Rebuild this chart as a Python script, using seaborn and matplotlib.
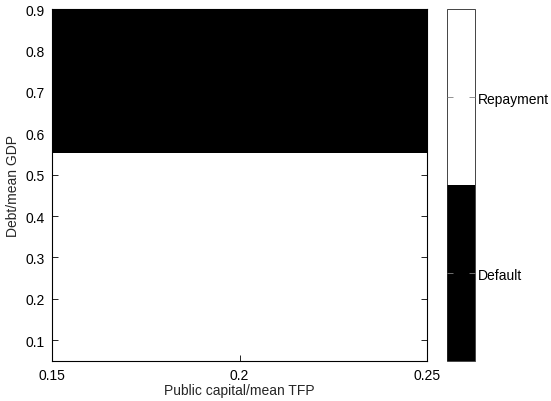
import numpy as np
import matplotlib
matplotlib.use("Agg")
import matplotlib.pyplot as plt
from matplotlib.colors import ListedColormap
import seaborn as sns

# grid edges
capital_edges = [0.15, 0.25]
debt_edges = [0.05, 0.553, 0.9]
# 1 = repayment, 0 = default (rows follow debt bins)
regime = [[1], [0]]
regime_labels = ["Default", "Repayment"]

sns.set_style("ticks")
plt.rcParams["font.family"] = ["Liberation Sans", "DejaVu Sans"]
plt.rcParams["font.size"] = 10

fig = plt.figure(figsize=(5.51, 4.02), dpi=100)
ax = fig.add_axes([0.0944, 0.0995, 0.681, 0.8756])
cax = fig.add_axes([0.811, 0.0995, 0.051, 0.8756])

cmap = ListedColormap(["black", "white"])
mesh = ax.pcolormesh(capital_edges, debt_edges, np.array(regime),
                     cmap=cmap, vmin=-0.5, vmax=1.5)
ax.set_axisbelow(False)

ax.set_xlim(0.15, 0.25)
ax.set_ylim(0.05, 0.9)
ax.set_xticks([0.15, 0.2, 0.25])
ax.set_xticklabels(["0.15", "0.2", "0.25"])
ax.set_yticks(np.arange(1, 10) / 10)
ax.set_yticklabels([f"{v/10:g}" for v in range(1, 10)])
ax.tick_params(direction="in", length=4, width=0.6, top=True, right=True,
               labelsize=10, colors="black", pad=5)
for s in ax.spines.values():
    s.set_visible(True)
    s.set_linewidth(0.8)
    s.set_color("black")
ax.set_xlabel("Public capital/mean TFP", fontsize=10, labelpad=1)
ax.set_ylabel("Debt/mean GDP", fontsize=10, labelpad=4)

cb = fig.colorbar(mesh, cax=cax, ticks=[0, 1])
cb.set_ticklabels(regime_labels)
cb.outline.set_linewidth(0.6)
cax.set_axisbelow(False)
cax.tick_params(direction="in", length=4, width=0.6, labelsize=10,
                left=True, right=True, color="0.5", labelcolor="black", pad=2)

fig.savefig("out.png", dpi=100)
